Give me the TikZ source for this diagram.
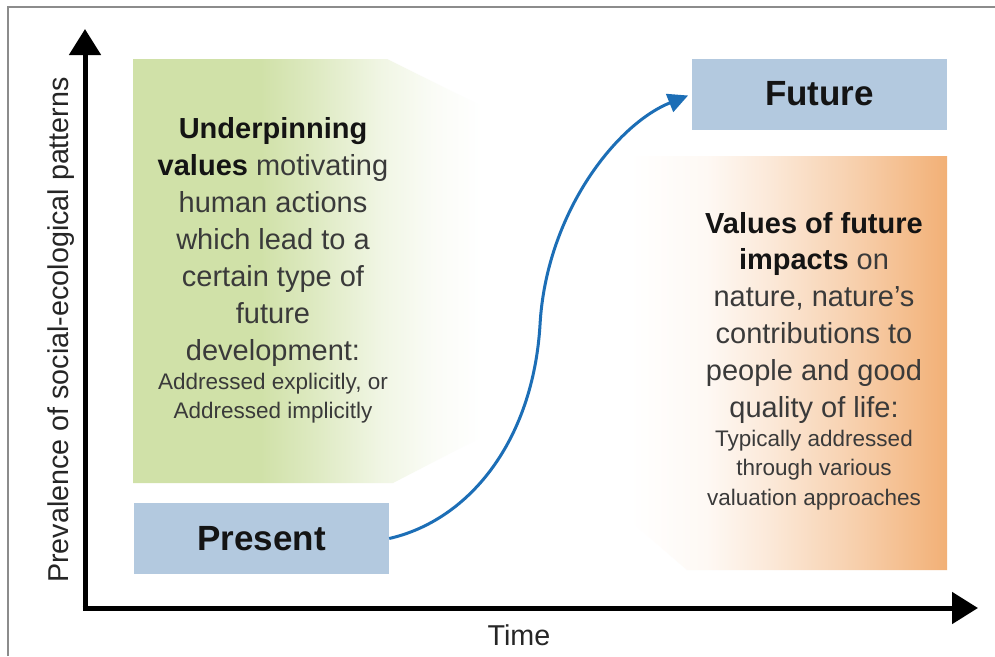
\documentclass[tikz,border=0pt]{standalone}
\usepackage{fontspec}
\setmainfont{Liberation Sans}
\usetikzlibrary{arrows.meta}
\definecolor{gL}{RGB}{208,225,168}
\definecolor{oR}{RGB}{242,176,118}
\definecolor{boxB}{RGB}{179,201,223}
\definecolor{curveB}{RGB}{28,110,182}
\definecolor{txtG}{RGB}{58,58,58}
\definecolor{txtK}{RGB}{20,20,20}
\colorlet{gM1}{gL!70!white}
\colorlet{gM2}{gL!32!white}
\colorlet{gM3}{gL!10!white}
\colorlet{oM1}{oR!8!white}
\colorlet{oM2}{oR!28!white}
\colorlet{oM3}{oR!60!white}
\pgfdeclarehorizontalshading{greenfade}{100bp}{color(0bp)=(gL); color(25bp)=(gL); color(41bp)=(gL); color(48bp)=(gM1); color(56bp)=(gM2); color(63bp)=(gM3); color(69bp)=(white); color(100bp)=(white)}
\pgfdeclarehorizontalshading{orangefade}{100bp}{color(0bp)=(white); color(34bp)=(white); color(44bp)=(oM1); color(52bp)=(oM2); color(63bp)=(oM3); color(75bp)=(oR); color(100bp)=(oR)}
\tikzset{
  bluebox/.style={fill=boxB, minimum width=255pt, minimum height=71pt, inner sep=0pt, text=txtK, font=\fontsize{35}{40}\selectfont\bfseries},
  bigtxt/.style={anchor=base, inner sep=0pt, text=txtG, font=\fontsize{29}{35}\selectfont},
  smalltxt/.style={anchor=base, inner sep=0pt, text=txtG, font=\fontsize{22.5}{28}\selectfont},
  axisline/.style={line width=5pt, black, -{Triangle[length=26pt,width=31pt]}},
  curveline/.style={line width=3pt, curveB, -{Triangle[length=20pt,width=19pt]}, shorten >=4pt},
  frameline/.style={line width=1.2pt, black!45},
  axislabel/.style={anchor=base, inner sep=0pt, text=black!85, font=\fontsize{28.7}{34}\selectfont}
}
\begin{document}
\begin{tikzpicture}[x=1pt,y=-1pt]
\useasboundingbox (0,0) rectangle (995,656);
\fill[white] (0,0) rectangle (995,656);
\draw[frameline] (8,656) -- (8,7) -- (995,7);

% shaded callouts
\shade[shading=greenfade] (133,59) -- (387,59) -- (530,130) -- (530,412) -- (393,483) -- (133,483) -- cycle;
\shade[shading=orangefade] (560,156) -- (947,156) -- (947,570) -- (687,570) -- (560,460) -- cycle;

% axes
\coordinate (ybot) at (85,610.5);
\coordinate (ytip) at (85,29);
\coordinate (xleft) at (82.5,608);
\coordinate (xtip) at (978,608);
\draw[axisline] (ybot) -- (ytip);
\draw[axisline] (xleft) -- (xtip);
\node[axislabel, rotate=90] (ylab) at (68,330) {Prevalence of social-ecological patterns};
\node[axislabel] (xlab) at (519,645) {Time};

% boxes
\node[bluebox] (present) at (261.5,538.5) {Present};
\node[bluebox] (future) at (819.5,94) {\raisebox{-3pt}{Future}};

% curve
\coordinate (mid) at (540,325);
\draw[curveline] (present.east) .. controls (470,520) and (533,440) .. (mid) .. controls (546,215) and (615,125) .. (future.west);

% green text
\foreach \yy/\txt [count=\i] in {138/{\textbf{\color{txtK}Underpinning}}, 175/{\textbf{\color{txtK}values} motivating}, 212/{human actions}, 249/{which lead to a}, 286/{certain type of}, 323/{future}, 360/{development:}}
  \node[bigtxt, name=g\i] at (273,\yy) {\txt};
\foreach \yy/\txt [count=\i] in {389/{Addressed explicitly, or}, 418/{Addressed implicitly}}
  \node[smalltxt, name=gs\i] at (273,\yy) {\txt};

% orange text
\foreach \yy/\txt [count=\i] in {233/{\textbf{\color{txtK}Values of future}}, 269/{\textbf{\color{txtK}impacts} on}, 306/{nature, nature’s}, 343/{contributions to}, 380/{people and good}, 417/{quality of life:}}
  \node[bigtxt, name=o\i] at (814,\yy) {\txt};
\foreach \yy/\txt [count=\i] in {446/{Typically addressed}, 475/{through various}, 505/{valuation approaches}}
  \node[smalltxt, name=os\i] at (814,\yy) {\txt};
\end{tikzpicture}
\end{document}
